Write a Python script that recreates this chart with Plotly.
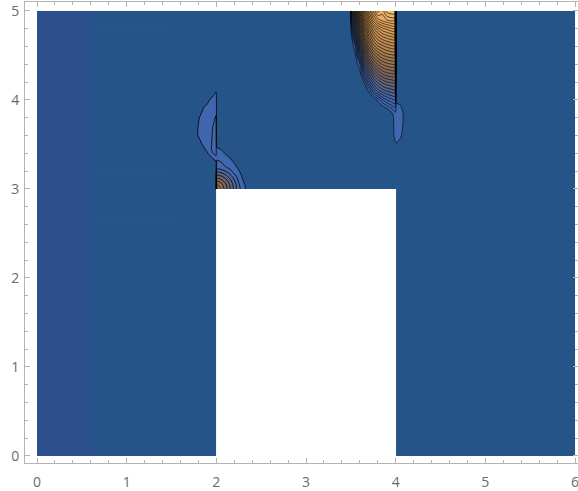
import plotly.graph_objects as go

# ---------------- data ----------------
# background cells (bin edges) : left strip, main field, hole (NaN) under the step
BG_X = [0, 0.62, 2, 4, 6]
BG_Y = [0, 3, 5]
BG_Z = [[1, 0, None, 0],
        [1, 0, 0, 0]]

# faint horizontal streaks in the field
FAINT_Y = [4.84, 4.31, 3.19, 2.65]
FAINT_X0 = [0.62, 0.62, 0.62, 0.62]
FAINT_X1 = [1.54, 1.54, 1.54, 1.57]

# plume at the left step corner (x ~ 2)
X1 = [1.74, 1.78, 1.82, 1.86, 1.9, 1.94, 1.97, 1.996, 2.004, 2.05, 2.1, 2.15, 2.2, 2.25, 2.3, 2.35, 2.4]
Y1 = [3.0, 3.05, 3.1, 3.15, 3.2, 3.25, 3.3, 3.35, 3.4, 3.45, 3.5, 3.6, 3.7, 3.8, 3.9, 4.0, 4.05, 4.1, 4.15]
Z1 = [
    [0, 0, 0, 0, 0, 0, 0, 0, 8.94, 7.56, 6.12, 4.67, 3.23, 1.79, 0.9, 0.04, 0],
    [0, 0, 0, 0, 0, 0, 0, 0, 7.56, 6.96, 5.77, 4.44, 3.05, 1.64, 0.73, 0, 0],
    [0, 0, 0, 0, 0, 0, 0, 0, 6.12, 5.77, 4.92, 3.8, 2.55, 1.26, 0.44, 0, 0],
    [0, 0, 0, 0, 0, 0, 0, 0, 4.67, 4.44, 3.8, 2.88, 1.79, 0.93, 0.22, 0, 0],
    [0, 0, 0, 0, 0, 0, 0, 0, 3.23, 3.05, 2.55, 1.79, 1.1, 0.58, 0, 0, 0],
    [0, 0, 0, 0, 0, 0, 0, 0, 1.79, 1.64, 1.52, 1.18, 0.76, 0.25, 0, 0, 0],
    [0, 0, 0, 0, 0, 0, 0, 0.2, 1.56, 1.53, 1.19, 0.82, 0.42, 0, 0, 0, 0],
    [0, 0, 0, 0, 0, 0.2, 0.8, 1.3, 1.43, 1.16, 0.8, 0.48, 0.05, 0, 0, 0, 0],
    [0, 0, 0, 0, 0.35, 1.2, 1.6, 1.7, 1.05, 0.8, 0.45, 0.1, 0, 0, 0, 0, 0],
    [0, 0, 0, 0.3, 0.9, 1.46, 1.7, 1.8, 0.65, 0.45, 0, 0, 0, 0, 0, 0, 0],
    [0, 0, 0.2, 0.75, 1.1, 1.45, 1.65, 1.8, 0.26, 0, 0, 0, 0, 0, 0, 0, 0],
    [0, 0.3, 0.8, 1.05, 1.25, 1.42, 1.6, 1.75, 0, 0, 0, 0, 0, 0, 0, 0, 0],
    [0, 0.3, 0.8, 1.05, 1.25, 1.4, 1.55, 1.7, 0, 0, 0, 0, 0, 0, 0, 0, 0],
    [0, 0, 0.65, 0.95, 1.15, 1.3, 1.42, 1.55, 0, 0, 0, 0, 0, 0, 0, 0, 0],
    [0, 0, 0, 0.6, 0.9, 1.1, 1.25, 1.35, 0, 0, 0, 0, 0, 0, 0, 0, 0],
    [0, 0, 0, 0, 0.2, 0.7, 1.0, 1.15, 0, 0, 0, 0, 0, 0, 0, 0, 0],
    [0, 0, 0, 0, 0, 0, 0.55, 0.9, 0, 0, 0, 0, 0, 0, 0, 0, 0],
    [0, 0, 0, 0, 0, 0, 0, 0.4, 0, 0, 0, 0, 0, 0, 0, 0, 0],
    [0, 0, 0, 0, 0, 0, 0, 0, 0, 0, 0, 0, 0, 0, 0, 0, 0],
]

# plume at the top (x ~ 3.5 .. 4)
X2 = [3.44, 3.496, 3.504, 3.55, 3.6, 3.65, 3.7, 3.75, 3.8, 3.85, 3.9, 3.95, 3.994, 4.006, 4.05, 4.1, 4.14]
Y2 = [3.45, 3.5, 3.55, 3.6, 3.7, 3.8, 3.85, 3.9, 4.0, 4.1, 4.2, 4.3, 4.4, 4.5, 4.6, 4.7, 4.8, 4.9, 5.0]
Z2 = [
    [0, 0, 0, 0, 0, 0, 0, 0, 0, 0, 0, 0, 0, 0, 0, 0, 0],
    [0, 0, 0, 0, 0, 0, 0, 0, 0, 0, 0, 0, 0.3, 0.4, 0, 0, 0],
    [0, 0, 0, 0, 0, 0, 0, 0, 0, 0, 0, 0, 0.55, 0.7, 0.4, 0, 0],
    [0, 0, 0, 0, 0, 0, 0, 0, 0, 0, 0, 0, 0.7, 0.85, 0.7, 0, 0],
    [0, 0, 0, 0, 0, 0, 0, 0, 0, 0, 0, 0, 0.8, 0.9, 0.85, 0.2, 0],
    [0, 0, 0, 0, 0, 0, 0, 0, 0, 0, 0, 0, 0.85, 0.92, 0.9, 0.3, 0],
    [0, 0, 0, 0, 0, 0, 0, 0, 0, 0, 0, 0.3, 0.9, 0.92, 0.9, 0.25, 0],
    [0, 0, 0, 0, 0, 0, 0, 0, 0, 0, 0.4, 0.9, 1.3, 0.9, 0.8, 0, 0],
    [0, 0, 0, 0, 0, 0, 0, 0, 0.6, 1.4, 2.0, 2.3, 2.5, 0.3, 0.1, 0, 0],
    [0, 0, 0, 0, 0, 0, 0.55, 1.8, 2.7, 3.2, 3.5, 3.7, 3.8, 0, 0, 0, 0],
    [0, 0, 0, 0, 0, 0.55, 2.1, 3.3, 4.1, 4.6, 4.95, 5.1, 5.2, 0, 0, 0, 0],
    [0, 0, 0, 0, 0.2, 2.0, 3.5, 4.7, 5.5, 6.1, 6.4, 6.55, 6.6, 0, 0, 0, 0],
    [0, 0, 0, 0, 1.0, 3.5, 5.0, 6.2, 7.0, 7.5, 7.8, 7.95, 8.0, 0, 0, 0, 0],
    [0, 0, 0, 0.4, 2.8, 5.0, 6.6, 7.7, 8.4, 8.9, 9.2, 9.35, 9.4, 0, 0, 0, 0],
    [0, 0, 0, 0.9, 4.0, 6.3, 8.0, 9.2, 9.9, 10.3, 10.6, 10.8, 10.9, 0, 0, 0, 0],
    [0, 0, 0.1, 2.8, 5.6, 7.7, 9.3, 10.5, 11.3, 11.8, 12.1, 12.3, 12.4, 0, 0, 0, 0],
    [0, 0, 0.9, 3.8, 6.5, 8.8, 10.5, 11.8, 12.7, 13.3, 13.6, 13.9, 14.0, 0, 0, 0, 0],
    [0, 0, 2.0, 5.0, 8.0, 10.5, 12.3, 13.8, 14.8, 15.2, 15.5, 15.7, 15.7, 0, 0, 0, 0],
    [0, 0, 3.0, 6.0, 9.0, 11.5, 13.5, 15.0, 16.2, 15.7, 16.7, 16.9, 16.9, 0, 0, 0, 0],
]

X_TICKS = [0, 1, 2, 3, 4, 5, 6]
Y_TICKS = [0, 1, 2, 3, 4, 5]

# ---------------- styling ----------------
BG = "rgb(36,84,136)"
STRIP = "rgb(43,80,140)"
FAINT = "rgb(46,82,148)"
AX = "#b4b4b4"
LBL = "#6a6a6a"

# colour per unit of the field (index 0 = background)
BAND_COLORS = [
    BG,
    "rgb(64,102,174)", "rgb(68,104,170)", "rgb(78,102,152)", "rgb(92,100,132)",
    "rgb(108,100,112)", "rgb(122,102,96)", "rgb(136,108,86)", "rgb(150,116,80)",
    "rgb(164,124,78)", "rgb(178,132,80)", "rgb(190,140,82)", "rgb(202,148,86)",
    "rgb(212,156,88)", "rgb(220,163,92)", "rgb(228,170,96)", "rgb(234,177,102)",
    "rgb(240,185,110)",
]
n_b = len(BAND_COLORS) - 1
CONTOUR_SCALE = [[0.0, BG], [0.02, BAND_COLORS[1]]] + \
    [[k / n_b, c] for k, c in enumerate(BAND_COLORS) if k >= 1]

fig = go.Figure()

fig.add_trace(go.Heatmap(
    x=BG_X, y=BG_Y, z=BG_Z, zmin=0, zmax=1,
    colorscale=[[0, BG], [1, STRIP]], showscale=False, hoverinfo="skip",
))

for y, x0, x1 in zip(FAINT_Y, FAINT_X0, FAINT_X1):
    fig.add_trace(go.Scatter(x=[x0, x1], y=[y, y], mode="lines",
                             line=dict(color=FAINT, width=1.5), hoverinfo="skip"))

for xs, ys, zs, step, alpha in ((X1, Y1, Z1, 1.0, 0.8), (X2, Y2, Z2, 0.5, 0.62)):
    fig.add_trace(go.Contour(
        x=xs, y=ys, z=zs,
        autocontour=False,
        contours=dict(start=0.5, end=16.5, size=step, coloring="fill"),
        colorscale=CONTOUR_SCALE, showscale=False,
        line=dict(color=f"rgba(0,0,0,{alpha})", width=1, smoothing=0.85),
        hoverinfo="skip",
    ))

axis_common = dict(
    ticks="inside", ticklen=5, tickwidth=1, tickcolor=AX,
    showline=True, linecolor=AX, linewidth=1, mirror="ticks",
    showgrid=False, zeroline=False,
    minor=dict(ticks="inside", ticklen=3, dtick=0.2, tick0=0, tickcolor=AX, showgrid=False),
    tickfont=dict(family="Open Sans", size=14, color=LBL),
)

fig.update_layout(
    width=578, height=491, autosize=False,
    margin=dict(l=25, r=0, t=2, b=28),
    paper_bgcolor="white", plot_bgcolor="white",
    showlegend=False,
    xaxis=dict(range=[-0.134, 6.033], tickvals=X_TICKS, ticklabeloverflow="allow",
               ticklabelstandoff=6, **axis_common),
    yaxis=dict(range=[-0.079, 5.101], tickvals=Y_TICKS, ticklabelstandoff=2, **axis_common),
)

fig.write_html("out.html")
